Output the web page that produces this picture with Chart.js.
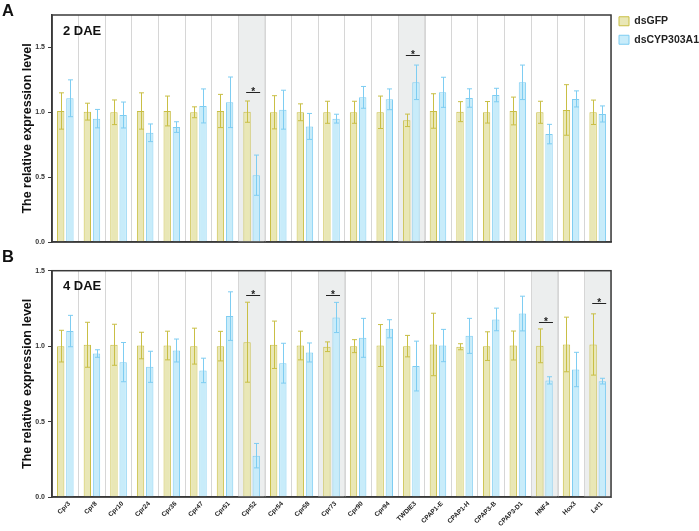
<!DOCTYPE html>
<html><head><meta charset="utf-8">
<script src="https://cdn.jsdelivr.net/npm/chart.js@4.4.1/dist/chart.umd.min.js"></script>
<style>
body{margin:0;background:#fff;width:699px;height:531px;overflow:hidden;position:relative;font-family:'Liberation Sans',Arial,sans-serif;}
.lbl{position:absolute;font-weight:bold;font-size:16.5px;line-height:17px;color:#111;}
canvas{position:absolute;left:0;}
</style></head><body>
<canvas id="cA" width="699" height="250" style="top:0"></canvas>
<canvas id="cB" width="699" height="281" style="top:250px"></canvas>
<div class="lbl" style="left:2px;top:2px">A</div>
<div class="lbl" style="left:2px;top:248px">B</div>
<script>
const categories = ['Cpr3','Cpr8','Cpr10','Cpr24','Cpr36','Cpr47','Cpr51','Cpr52','Cpr54','Cpr58','Cpr73','Cpr90','Cpr94','TWDIE3','CPAP1-E','CPAP1-H','CPAP3-B','CPAP3-D1','HNF4','Hox3','Let1'];
const seriesNames = ['dsGFP','dsCYP303A1'];

// Panel A (2 DAE)
const gfpA    = [1.01,1.005,1.0,1.01,1.01,1.0,1.01,1.005,1.0,1.0,1.0,1.0,1.0,0.938,1.01,1.005,1.0,1.01,1.0,1.018,1.0];
const gfpErrA = [0.14,0.065,0.095,0.14,0.115,0.042,0.128,0.082,0.128,0.065,0.085,0.085,0.125,0.048,0.133,0.077,0.083,0.107,0.085,0.195,0.094];
const cypA    = [1.108,0.951,0.979,0.842,0.886,1.049,1.077,0.515,1.02,0.891,0.951,1.115,1.1,1.231,1.154,1.11,1.133,1.231,0.832,1.103,0.987];
const cypErrA = [0.142,0.071,0.1,0.068,0.041,0.131,0.195,0.155,0.15,0.1,0.034,0.084,0.08,0.133,0.116,0.071,0.052,0.133,0.075,0.062,0.062];
const sigIdxA = [7, 13];
const sigLvlA = [1.16, 1.44];
const yTicksA = [0, 0.5, 1.0, 1.5];
const yMaxA = 1.75;

// Panel B (4 DAE)
const gfpB    = [1.0,1.009,1.009,1.004,1.004,1.0,1.0,1.026,1.009,1.004,0.996,1.0,1.004,1.0,1.011,0.996,1.0,1.004,1.002,1.011,1.011];
const gfpErrB = [0.105,0.149,0.136,0.088,0.095,0.119,0.098,0.265,0.157,0.095,0.032,0.043,0.139,0.071,0.207,0.02,0.095,0.096,0.112,0.181,0.203];
const cypB    = [1.1,0.951,0.894,0.863,0.971,0.839,1.199,0.274,0.887,0.958,1.19,1.055,1.115,0.868,1.004,1.068,1.177,1.216,0.773,0.845,0.768];
const cypErrB = [0.104,0.025,0.13,0.103,0.076,0.081,0.161,0.081,0.132,0.063,0.1,0.129,0.06,0.165,0.107,0.116,0.075,0.115,0.024,0.114,0.019];
const sigIdxB = [7, 10, 18, 20];
const sigLvlB = [1.338, 1.342, 1.159, 1.289];
const yTicksB = [0, 0.5, 1.0, 1.5];
const yMaxB = 1.5;

Chart.defaults.font.family = "'Liberation Sans', Arial, sans-serif";

const COL = {
  gfpFill:'#e9e7b6', gfpLine:'#c9bf45',
  cypFill:'#c8ecfa', cypLine:'#7ecdf2',
  shade:'#eceeee', grid:'#d6d6d6', axis:'#3a3a3a'
};

const decoPlugin = {
  id:'deco',
  afterLayout(chart, args, opts){
    if (opts.legendShift && chart.legend) { chart.legend.top += opts.legendShift; chart.legend.bottom += opts.legendShift; }
  },
  beforeDatasetsDraw(chart, args, opts){
    const {ctx, chartArea:ca, scales:{x}} = chart;
    const w = x.width / categories.length;
    ctx.save();
    ctx.fillStyle = COL.shade;
    opts.sigIdx.forEach(i => {
      const cx = x.getPixelForValue(i);
      ctx.fillRect(cx - w/2 + 0.5, ca.top, w - 1, ca.bottom - ca.top);
    });
    // redraw grid lines over the shading
    ctx.strokeStyle = COL.grid; ctx.lineWidth = 1;
    opts.sigIdx.forEach(i => {
      const cx = x.getPixelForValue(i);
      [cx - w/2, cx + w/2].forEach(gx => {
        ctx.beginPath(); ctx.moveTo(Math.round(gx)+0.5, ca.top); ctx.lineTo(Math.round(gx)+0.5, ca.bottom); ctx.stroke();
      });
    });
    ctx.restore();
  },
  afterDatasetsDraw(chart, args, opts){
    const {ctx, chartArea:ca, scales:{x, y}} = chart;
    ctx.save();
    chart.data.datasets.forEach((ds, d) => {
      const meta = chart.getDatasetMeta(d);
      const errs = opts.errs[d];
      ctx.strokeStyle = ds.borderColor; ctx.lineWidth = 1;
      meta.data.forEach((el, i) => {
        const v = ds.data[i], e = errs[i];
        const yt = y.getPixelForValue(v + e), yb = y.getPixelForValue(v - e);
        const cx = Math.round(el.x) + 0.5;
        ctx.beginPath();
        ctx.moveTo(cx, yt); ctx.lineTo(cx, yb);
        ctx.moveTo(cx - 2.5, yt); ctx.lineTo(cx + 2.5, yt);
        ctx.moveTo(cx - 2.5, yb); ctx.lineTo(cx + 2.5, yb);
        ctx.stroke();
      });
    });
    // significance marks
    ctx.strokeStyle = '#222'; ctx.fillStyle = '#222'; ctx.lineWidth = 1;
    ctx.font = "bold 10px 'Liberation Sans', Arial, sans-serif";
    ctx.textAlign = 'center'; ctx.textBaseline = 'alphabetic';
    opts.sigIdx.forEach((i, k) => {
      const cx = x.getPixelForValue(i) + 1.5;
      const ly = Math.round(y.getPixelForValue(opts.sigLvl[k])) + 0.5;
      ctx.beginPath(); ctx.moveTo(cx - 7, ly); ctx.lineTo(cx + 7, ly); ctx.stroke();
      ctx.fillText('*', cx, ly + 2);
    });
    ctx.restore();
  },
  afterDraw(chart, args, opts){
    const {ctx, chartArea:ca} = chart;
    ctx.save();
    ctx.strokeStyle = COL.axis; ctx.lineWidth = 1.5;
    ctx.strokeRect(ca.left, ca.top, ca.right - ca.left, ca.bottom - ca.top);
    ctx.fillStyle = '#111';
    ctx.font = "bold 13px 'Liberation Sans', Arial, sans-serif";
    ctx.textAlign = 'left'; ctx.textBaseline = 'alphabetic';
    ctx.fillText(opts.label, ca.left + 11, ca.top + 19.5);
    ctx.restore();
  }
};

function makeChart(id, gfp, gfpErr, cyp, cypErr, sigIdx, sigLvl, yTicks, yMax, label, isTop){
  const datasets = [
    {label:seriesNames[0], data:gfp, backgroundColor:COL.gfpFill, borderColor:COL.gfpLine, borderWidth:1, categoryPercentage:0.69, barPercentage:0.8},
    {label:seriesNames[1], data:cyp, backgroundColor:COL.cypFill, borderColor:COL.cypLine, borderWidth:1, categoryPercentage:0.69, barPercentage:0.8}
  ];
  return new Chart(document.getElementById(id), {
    type:'bar',
    data:{labels:categories, datasets},
    plugins:[decoPlugin],
    options:{
      responsive:false, animation:false, devicePixelRatio:1,
      layout:{padding: isTop ? {top:15, bottom:8, left:0, right:0} : {top:20.7, bottom:0, left:0, right:88}},
      plugins:{
        tooltip:{enabled:false},
        legend: isTop ? {display:true, position:'right', align:'start', maxWidth:88,
          labels:{boxWidth:10, boxHeight:9, padding:8, color:'#222', font:{size:10.5, weight:'bold'}}} : {display:false},
        deco:{errs:[gfpErr, cypErr], sigIdx, sigLvl, label, legendShift: isTop ? -7 : 0}
      },
      scales:{
        x:{
          afterFit: s => { s.height = isTop ? 0 : 34; },
          ticks: isTop ? {display:false} : {display:true, autoSkip:false, minRotation:45, maxRotation:45, padding:3, labelOffset:4, color:'#222', font:{size:6.5, weight:'bold'}},
          grid:{color:COL.grid, drawTicks:false, offset:true},
          border:{display:true, color:COL.axis, width:1.5}
        },
        y:{
          min:0, max:yMax,
          afterBuildTicks: s => { s.ticks = yTicks.map(v => ({value:v})); },
          afterFit: s => { s.width = 52; },
          ticks:{font:{size:7, weight:'bold'}, color:'#333', padding:3, callback: v => Number(v).toFixed(1)},
          grid:{drawOnChartArea:false, drawTicks:true, tickLength:4, color:COL.axis},
          border:{display:true, color:COL.axis, width:1.5},
          title:{display:true, text:'The relative expression level', color:'#111', font:{size:12.5, weight:'bold'}, padding:{top:20, bottom:0}}
        }
      }
    }
  });
}

makeChart('cA', gfpA, gfpErrA, cypA, cypErrA, sigIdxA, sigLvlA, yTicksA, yMaxA, '2 DAE', true);
makeChart('cB', gfpB, gfpErrB, cypB, cypErrB, sigIdxB, sigLvlB, yTicksB, yMaxB, '4 DAE', false);
</script>
</body></html>
